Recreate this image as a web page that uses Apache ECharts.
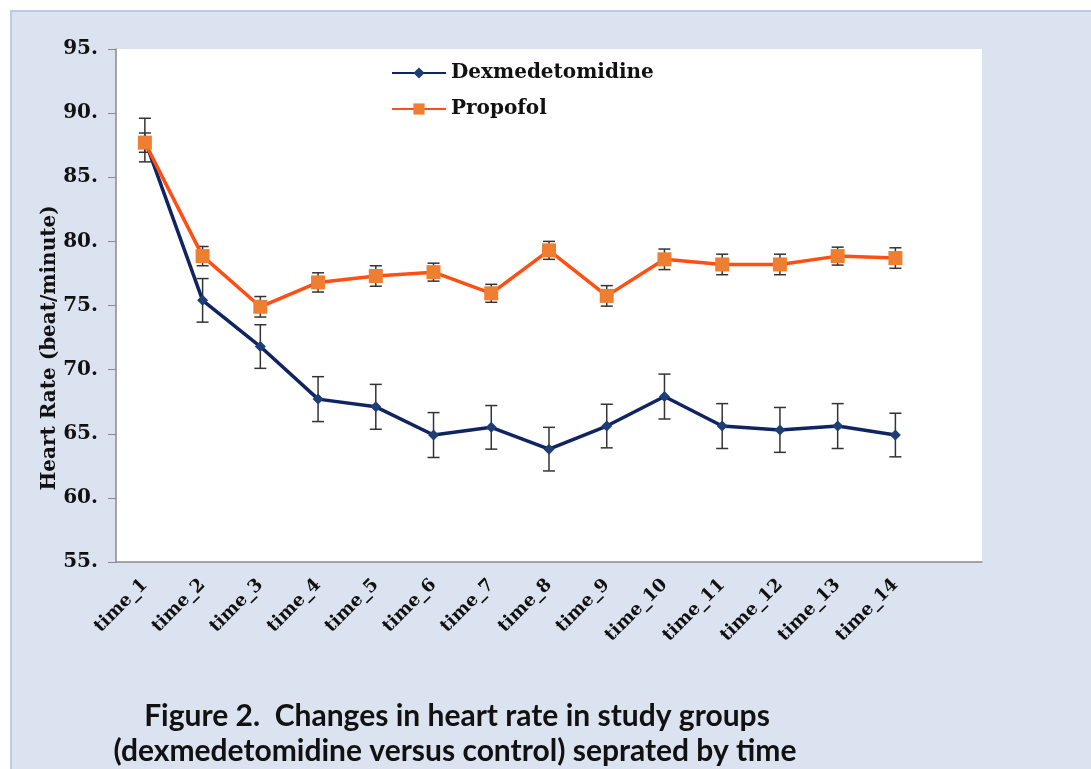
<!DOCTYPE html>
<html>
<head>
<meta charset="utf-8">
<script src="https://cdn.jsdelivr.net/npm/echarts@6/dist/echarts.min.js"></script>
<style>
html,body{margin:0;padding:0;background:#fff;}
#chart{width:1091px;height:769px;}
</style>
</head>
<body>
<div id="chart"></div>
<script>
const categories = ['time_1','time_2','time_3','time_4','time_5','time_6','time_7','time_8','time_9','time_10','time_11','time_12','time_13','time_14',''];
const dexMean = [87.9, 75.4, 71.8, 67.7, 67.1, 64.9, 65.5, 63.8, 65.6, 67.9, 65.6, 65.3, 65.6, 64.9];
const dexSD   = [1.7, 1.7, 1.7, 1.75, 1.75, 1.75, 1.7, 1.7, 1.7, 1.75, 1.75, 1.75, 1.75, 1.7];
const propMean = [87.7, 78.85, 74.9, 76.8, 77.3, 77.6, 75.95, 79.3, 75.75, 78.6, 78.2, 78.2, 78.85, 78.7];
const propSD   = [0.75, 0.75, 0.8, 0.75, 0.8, 0.7, 0.7, 0.7, 0.8, 0.8, 0.8, 0.8, 0.7, 0.8];
const yTicks = {min: 55, max: 95, interval: 5};

const dexErr = dexMean.map((m,i)=>[i, m - dexSD[i], m + dexSD[i]]);
const propErr = propMean.map((m,i)=>[i, m - propSD[i], m + propSD[i]]);

function errRender(params, api){
  const x = api.value(0);
  const lo = api.coord([x, api.value(1)]);
  const hi = api.coord([x, api.value(2)]);
  const w = 6;
  const style = {stroke:'#333', lineWidth:1.5};
  return {type:'group', children:[
    {type:'line', shape:{x1:lo[0],y1:lo[1],x2:hi[0],y2:hi[1]}, style},
    {type:'line', shape:{x1:lo[0]-w,y1:lo[1],x2:lo[0]+w,y2:lo[1]}, style},
    {type:'line', shape:{x1:hi[0]-w,y1:hi[1],x2:hi[0]+w,y2:hi[1]}, style}
  ]};
}

const serif = 'DejaVu Serif';
const chart = echarts.init(document.getElementById('chart'));
chart.setOption({
  backgroundColor:'#ffffff',
  animation:false,
  graphic:[
    {type:'rect', left:10, top:10, shape:{width:1100, height:800}, style:{fill:'#dbe3f0', stroke:'#b9cde8', lineWidth:2}, z:-10},
    {type:'text', x:457, y:716, style:{text:'Figure 2.  Changes in heart rate in study groups', font:'bold 30px Lato', fill:'#111', textAlign:'center', textVerticalAlign:'middle'}},
    {type:'text', x:455, y:751, style:{text:'(dexmedetomidine versus control) seprated by time', font:'bold 30px Lato', fill:'#111', textAlign:'center', textVerticalAlign:'middle'}},
    {type:'text', x:50, y:348, rotation:Math.PI/2, style:{text:'Heart Rate (beat/minute)', font:'bold 20px "DejaVu Serif"', fill:'#111', textAlign:'center', textVerticalAlign:'middle'}}
  ],
  grid:{left:116, top:49, right:109, bottom:207, show:true, backgroundColor:'#ffffff', borderWidth:0},
  legend:{
    orient:'vertical', left:386, top:58, itemWidth:54, itemHeight:14, itemGap:16,
    textStyle:{fontFamily:serif, fontWeight:'bold', fontSize:20, color:'#111'},
    data:['Dexmedetomidine','Propofol']
  },
  xAxis:{
    type:'category', data:categories, boundaryGap:true,
    axisLine:{lineStyle:{color:'#8a8a8a', width:1.5}},
    axisTick:{show:false},
    axisLabel:{rotate:45, interval:0, margin:20, fontFamily:serif, fontWeight:'bold', fontSize:18, color:'#111'}
  },
  yAxis:{
    type:'value', min:yTicks.min, max:yTicks.max, interval:yTicks.interval,
    axisLine:{show:true, lineStyle:{color:'#8a8a8a', width:1.5}},
    axisTick:{show:true, length:8, lineStyle:{color:'#8a8a8a'}},
    splitLine:{show:false},
    axisLabel:{margin:18, formatter:v=>v+'.', fontFamily:serif, fontWeight:'bold', fontSize:20, color:'#111'}
  },
  series:[
    {type:'custom', name:'dexErr', renderItem:errRender, data:dexErr, z:1, silent:true},
    {type:'custom', name:'propErr', renderItem:errRender, data:propErr, z:1, silent:true},
    {type:'line', name:'Dexmedetomidine', data:dexMean, z:3,
      lineStyle:{color:'#0f2460', width:3.5}, itemStyle:{color:'#1e3e75'},
      symbol:'diamond', symbolSize:11},
    {type:'line', name:'Propofol', data:propMean, z:4,
      lineStyle:{color:'#ff4f12', width:3.5}, itemStyle:{color:'#ee7f30'},
      symbol:'rect', symbolSize:14}
  ]
});
</script>
</body>
</html>
